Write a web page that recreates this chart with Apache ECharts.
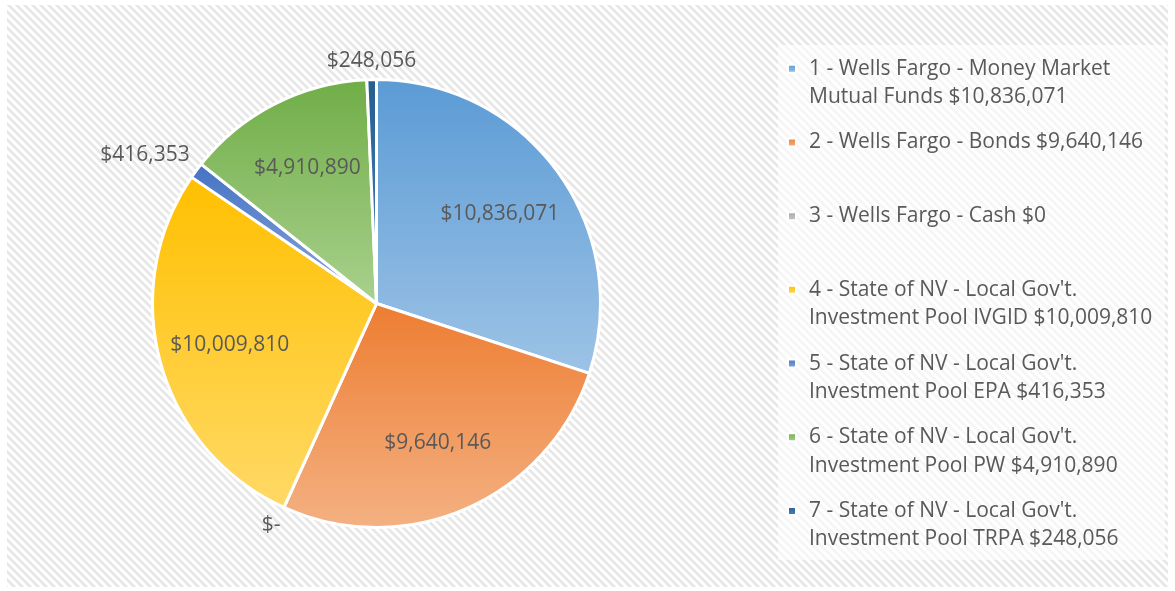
<!DOCTYPE html>
<html>
<head>
<meta charset="utf-8">
<script src="https://cdn.jsdelivr.net/npm/echarts@6/dist/echarts.min.js"></script>
<style>
  html, body { margin: 0; background: #fff; }
  #chart { position: absolute; left: 7px; top: 5px; width: 1161px; height: 582px; }
</style>
</head>
<body>
<div id="chart"></div>
<script>
// Slice names, wrapped the way the legend wraps them
const names = [
  '1 - Wells Fargo - Money Market\nMutual Funds',
  '2 - Wells Fargo - Bonds',
  '3 - Wells Fargo - Cash',
  "4 - State of NV - Local Gov't.\nInvestment Pool IVGID",
  "5 - State of NV - Local Gov't.\nInvestment Pool EPA",
  "6 - State of NV - Local Gov't.\nInvestment Pool PW",
  "7 - State of NV - Local Gov't.\nInvestment Pool TRPA"
];
const values = [10836071, 9640146, 0, 10009810, 416353, 4910890, 248056];

// Gradient fills (top -> bottom of each slice)
const topColors = ['#5B9BD5', '#ED7D31', '#A5A5A5', '#FFC000', '#4472C4', '#70AD47', '#255E91'];
const bottomColors = ['#9DC3E6', '#F4B183', '#C9C9C9', '#FFD966', '#8FAADC', '#A9D18E', '#4F81B8'];

const CX = 369.5, CY = 298.5, R = 224;
const FONT = '"Open Sans"';
const TEXT = '#595959';

const total = values.reduce((a, b) => a + b, 0);
const money = (v) => '$' + v.toLocaleString('en-US');

function midAngle(i) {
  let s = 0;
  for (let k = 0; k < i; k++) s += values[k];
  return (s + values[i] / 2) / total * Math.PI * 2;
}

// diagonal hatch used for the chart area
const pat = document.createElement('canvas');
pat.width = pat.height = 8;
const g = pat.getContext('2d');
g.fillStyle = '#ffffff';
g.fillRect(0, 0, 8, 8);
g.fillStyle = '#e8e8e8';
for (let y = 0; y < 8; y++) {
  for (let x = 0; x < 8; x++) {
    if ((((x - y) % 8) + 8) % 8 < 4) g.fillRect(x, y, 1, 1);
  }
}

const chart = echarts.init(document.getElementById('chart'));

chart.setOption({
  backgroundColor: { image: pat, repeat: 'repeat' },
  animation: false,
  graphic: [{
    type: 'rect',
    left: 771, top: 40, z: 0,
    shape: { width: 387, height: 515 },
    style: { fill: 'rgba(255,255,255,0.62)' }
  }],
  legend: {
    orient: 'vertical',
    left: 780,
    top: 21,
    padding: 0,
    itemGap: -11.8,
    itemWidth: 8,
    itemHeight: 8,
    icon: 'rect',
    selectedMode: false,
    textStyle: { fontFamily: FONT, fontSize: 21, color: TEXT, lineHeight: 28.5, padding: [0, 0, 0, 8] },
    formatter: function (name) {
      const i = names.indexOf(name);
      const lines = (name + ' ' + money(values[i])).split('\n');
      if (lines.length < 2) lines.push('\u00a0');
      // empty first line keeps the icon level with the first text line
      return '\u00a0\n' + lines.join('\n');
    }
  },
  series: [{
    type: 'pie',
    center: [CX, CY],
    radius: [0, R],
    startAngle: 90,
    clockwise: true,
    avoidLabelOverlap: false,
    itemStyle: { borderColor: '#ffffff', borderWidth: 3 },
    label: {
      show: true,
      fontFamily: FONT,
      fontSize: 21,
      color: TEXT,
      formatter: (p) => (p.value === 0 ? '$-' : money(p.value))
    },
    labelLine: { show: false },
    labelLayout: function (p) {
      const i = p.dataIndex;
      const a = midAngle(i);
      const dx = Math.sin(a), dy = -Math.cos(a);
      if (values[i] / total > 0.05) {
        return { x: CX + dx * R * 0.68, y: CY + dy * R * 0.68, align: 'center', verticalAlign: 'middle' };
      }
      const d = R + 8;
      return {
        x: CX + dx * d,
        y: CY + dy * d,
        align: Math.abs(dx) < 0.3 ? 'center' : (dx < 0 ? 'right' : 'left'),
        verticalAlign: dy < 0 ? 'bottom' : 'top'
      };
    },
    data: names.map((n, i) => ({
      name: n,
      value: values[i],
      itemStyle: {
        color: {
          type: 'linear', x: 0, y: 0, x2: 0, y2: 1,
          colorStops: [
            { offset: 0, color: topColors[i] },
            { offset: 1, color: bottomColors[i] }
          ]
        }
      }
    }))
  }]
});
</script>
</body>
</html>
